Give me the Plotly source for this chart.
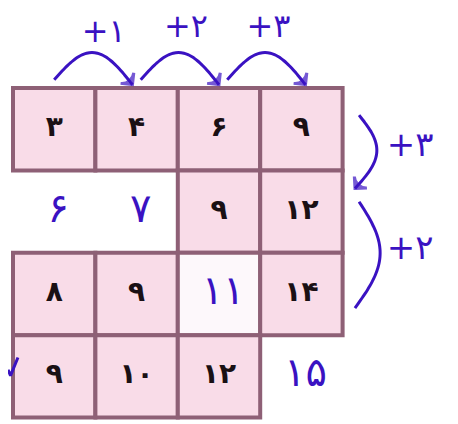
import plotly.graph_objects as go
import numpy as np

# printed grid values (None = no cell, "" = empty cell)
row1 = ["۳", "۴", "۶", "۹"]
row2 = [None, None, "۹", "۱۲"]
row3 = ["۸", "۹", "", "۱۴"]
row4 = ["۹", "۱۰", "۱۲", None]
grid = [row1, row2, row3, row4]

# handwritten answers (row, col, text)
hand_answers = [(1, 0, "۶"), (1, 1, "۷"), (2, 2, "۱۱"), (3, 3, "۱۵")]
top_steps = ["+۱", "+۲", "+۳"]
right_steps = ["+۳", "+۲"]

PINK = "#f9dce8"
BORDER = "#8e6076"
INK = "#3a12c2"

fig = go.Figure()

# cells
for r, row in enumerate(grid):
    for c, val in enumerate(row):
        if val is None:
            continue
        fill = "#fdf8fb" if val == "" else PINK
        fig.add_shape(type="rect", x0=c, x1=c + 1, y0=r, y1=r + 1,
                      xref="x", yref="y", fillcolor=fill,
                      line=dict(color=BORDER, width=4), layer="below")

# printed numbers
xs, ys, ts = [], [], []
for r, row in enumerate(grid):
    for c, val in enumerate(row):
        if val:
            xs.append(c + 0.5)
            ys.append(r + 0.5)
            ts.append(val)
fig.add_trace(go.Scatter(x=xs, y=ys, text=ts, mode="text",
                         textfont=dict(family="DejaVu Sans", size=28, color="#1a1014", weight="bold"),
                         textposition="middle center", hoverinfo="skip"))

# handwritten answers
fig.add_trace(go.Scatter(
    x=[c + 0.55 for r, c, t in hand_answers],
    y=[r + 0.5 for r, c, t in hand_answers],
    text=[t for r, c, t in hand_answers], mode="text",
    textfont=dict(family="DejaVu Sans", size=40, color=INK),
    hoverinfo="skip"))

# top arcs with arrowheads
for i, lab in enumerate(top_steps):
    t = np.linspace(0, 1, 30)
    x0, x1 = i + 0.5 + 0.05 * i, i + 1.45 + 0.05 * i
    ax = x0 + (x1 - x0) * t
    ay = -0.1 + 0.06 * t - 0.36 * np.sin(np.pi * t)
    sizes = [0] * (len(t) - 1) + [12]
    fig.add_trace(go.Scatter(x=ax, y=ay, mode="lines+markers",
                             line=dict(color=INK, width=3, shape="spline"),
                             marker=dict(symbol="arrow-wide-open", size=sizes, angleref="previous",
                                         color=INK, line=dict(color=INK, width=3)),
                             hoverinfo="skip"))
    fig.add_trace(go.Scatter(x=[i + 1.1], y=[-0.72 + (0.07 if i == 0 else 0)], text=[lab], mode="text",
                             textfont=dict(family="DejaVu Sans", size=32, color=INK),
                             cliponaxis=False, hoverinfo="skip"))

# right brackets
brackets = [(0.33, 1.22, 0.24), (1.38, 2.67, 0.28)]
for k, (b0, b1, rx) in enumerate(brackets):
    t = np.linspace(0, 1, 30)
    bx = 4.2 + rx * np.sin(np.pi * t) - 0.05 * t
    by = b0 + (b1 - b0) * t
    sizes = [0] * (len(t) - 1) + ([12] if k == 0 else [0])
    fig.add_trace(go.Scatter(x=bx, y=by, mode="lines+markers",
                             line=dict(color=INK, width=3, shape="spline"),
                             marker=dict(symbol="arrow-wide-open", size=sizes, angleref="previous",
                                         color=INK, line=dict(color=INK, width=3)),
                             hoverinfo="skip"))
    fig.add_trace(go.Scatter(x=[4.82], y=[(b0 + b1) / 2 - 0.05], text=[right_steps[k]], mode="text",
                             textfont=dict(family="DejaVu Sans", size=34, color=INK),
                             hoverinfo="skip"))

# check mark on the left edge
fig.add_trace(go.Scatter(x=[-0.06, -0.03, 0.06], y=[3.42, 3.49, 3.27], mode="lines",
                         line=dict(color=INK, width=3), hoverinfo="skip"))

# page body has an 8px margin, so shift the ranges to keep the grid in place
fig.update_xaxes(range=[-5 / 82.4, 453 / 82.4], visible=False, fixedrange=True)
fig.update_yaxes(range=[344 / 82.4, -80 / 82.4], visible=False, fixedrange=True)
fig.update_layout(width=458, height=424, margin=dict(l=0, r=0, t=0, b=0),
                  paper_bgcolor="white", plot_bgcolor="white", showlegend=False)

fig.write_html("out.html")
